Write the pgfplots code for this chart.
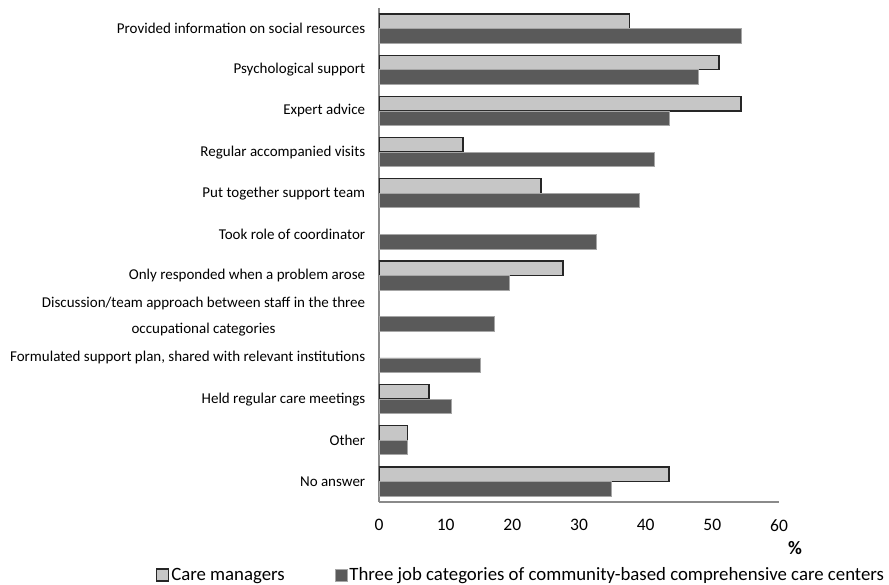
\documentclass[border=0pt]{standalone}
\usepackage{fontspec}
\setmainfont{Carlito}
\usepackage{pgfplots}
\pgfplotsset{compat=1.18}
\definecolor{cmfill}{HTML}{C6C6C6}
\definecolor{tjfill}{HTML}{5A5A5A}
\definecolor{axgray}{HTML}{8A8A8A}
\begin{document}
\begin{tikzpicture}
\begin{axis}[
  name=ax,
  at={(0,0)}, anchor=south west,
  scale only axis, width=400pt, height=494pt,
  xbar=0pt, bar width=14.5pt,
  xmin=0, xmax=60, ymin=-0.5, ymax=11.5,
  xtick={0,10,...,60},
  ytick={0,...,11},
  yticklabels={No answer,Other,Held regular care meetings,{Formulated support plan, shared with relevant institutions},{Discussion/team approach between staff in the three\\occupational categories},Only responded when a problem arose,Took role of coordinator,Put together support team,Regular accompanied visits,Expert advice,Psychological support,Provided information on social resources},
  axis x line*=bottom, axis y line*=left,
  axis line style={draw=axgray, line width=1.2pt, -},
  tick style={draw=none},
  /pgf/number format/assume math mode=true,
  xticklabel style={font=\fontsize{17.5}{19}\selectfont, yshift=-14pt},
  yticklabel style={font=\fontsize{15}{26}\selectfont, align=center, xshift=-6pt},
  legend columns=2,
  legend style={at={(0.355,0)}, anchor=center, yshift=-73pt, draw=none,
    font=\fontsize{18.8}{20}\selectfont,
    /tikz/every even column/.append style={column sep=48pt}},
  legend image code/.code={\draw[#1] (0pt,-6pt) rectangle (12pt,6pt);},
]
\addplot[draw=black!85, line width=1.3pt, fill=cmfill, bar shift=7.25pt] coordinates {
  (37.6,11) (51.0,10) (54.3,9) (12.6,8) (24.3,7) (27.6,5) (7.5,2) (4.3,1) (43.5,0)};
\addlegendentry{Care managers}
\addplot[draw=black!35, line width=0.6pt, fill=tjfill, bar shift=-7.25pt] coordinates {
  (54.4,11) (47.9,10) (43.5,9) (41.3,8) (39.1,7) (32.6,6) (19.6,5) (17.3,4) (15.2,3) (10.8,2) (4.2,1) (34.8,0)};
\addlegendentry{Three job categories of community-based comprehensive care centers}
\end{axis}
\node[font=\bfseries\fontsize{19}{19}\selectfont] at ([xshift=16pt,yshift=-46pt]ax.south east) {\%};
\pgfresetboundingbox
\path[use as bounding box] ([xshift=-379pt,yshift=-82pt]ax.south west) rectangle ([xshift=110pt,yshift=8pt]ax.north east);
\end{tikzpicture}
\end{document}
